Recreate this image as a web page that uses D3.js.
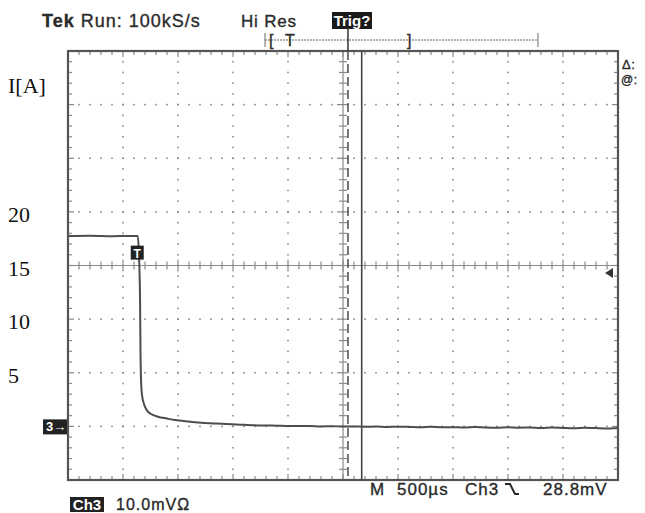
<!DOCTYPE html>
<html><head><meta charset="utf-8">
<script src="https://cdn.jsdelivr.net/npm/d3@7/dist/d3.min.js"></script>
<style>body{margin:0;background:#fff}svg{display:block}</style>
</head><body><svg id="c" width="645" height="513"></svg>
<script>
// ---- data (time in ms relative to trigger, current in A) ----
const timeMs = [-2.5,-2.3,-2.1,-1.95,-1.866,-1.855,-1.845,-1.841,-1.836,-1.827,-1.809,-1.785,-1.745,-1.682,-1.600,-1.527,-1.409,-1.285,-1.15,-1.012,-0.9,-0.773,-0.65,-0.55,-0.391,-0.3,-0.2,-0.1,0,0.1,0.2,0.3,0.4,0.5,0.6,0.7,0.8,0.9,1.0,1.1,1.2,1.3,1.4,1.5,1.6,1.7,1.8,1.9,2.0,2.1,2.2,2.3,2.4,2.5];
const currentA = [17.75,17.78,17.73,17.76,17.75,16.0,11.8,7.1,4.3,2.92,2.08,1.52,1.15,0.90,0.73,0.59,0.45,0.34,0.26,0.19,0.14,0.09,0.07,0.05,0.03,0.04,0.0,0.02,-0.02,0.0,-0.04,-0.02,-0.06,-0.03,-0.05,-0.08,-0.04,-0.09,-0.07,-0.11,-0.06,-0.10,-0.12,-0.08,-0.13,-0.10,-0.15,-0.11,-0.14,-0.17,-0.12,-0.16,-0.19,-0.15];
const yTickValues = [5,10,15,20];
const yTickLabels = ["5","10","15","20"];
const yUnitLabel = "I[A]";
const headerLeft = "Run: 100kS/s";
const headerBrand = "Tek";
const headerMode = "Hi Res";
const trigLabel = "Trig?";
const footerScale = ["M","500\u00b5s","Ch3","","28.8mV"];
const channelLabel = "Ch3";
const channelScale = "10.0mV\u03a9";
const timeDomain = [-2.5, 2.5];   // 10 div x 500 µs
const currentDomain = [-5, 35];   // 8 div x 5 A
const cursorMs = 0.17, trigPosMs = 0.045, trigLevelA = 14.3;

const svg = d3.select("#c");
const L=68,R=618,T=51,B=480;
const x = d3.scaleLinear().domain(timeDomain).range([L,R]);
const y = d3.scaleLinear().domain(currentDomain).range([B,T]);
const gridCol="#8a8a8a", frameCol="#555";
const txtCol="#2a2a2a";

// dotted division grid
const xDiv = d3.range(-2.0, 2.01, 0.5).filter(v=>Math.abs(v)>1e-9);
const yDiv = d3.range(0, 30.1, 5).filter(v=>Math.abs(v-15)>1e-9);
const xMinor = d3.range(-2.5, 2.5001, 0.1);
const yMinor = d3.range(-5, 35.001, 1);
const dots = svg.append("g").attr("fill",gridCol);
xDiv.forEach(t=>yMinor.forEach(a=>dots.append("rect").attr("x",x(t)-0.8).attr("y",y(a)-0.8).attr("width",1.6).attr("height",1.6)));
yDiv.forEach(a=>xMinor.forEach(t=>dots.append("rect").attr("x",x(t)-0.8).attr("y",y(a)-0.8).attr("width",1.6).attr("height",1.6)));

// centre cross with ticks
const cg = svg.append("g").attr("stroke",gridCol).attr("stroke-width",1.2);
cg.append("line").attr("x1",L).attr("x2",R).attr("y1",y(15)).attr("y2",y(15));
cg.append("line").attr("x1",x(0)).attr("x2",x(0)).attr("y1",T).attr("y2",B);
xMinor.forEach((t,i)=>{const big=i%5===0;cg.append("line").attr("x1",x(t)).attr("x2",x(t)).attr("y1",y(15)-(big?6:4)).attr("y2",y(15)+(big?6:4));});
yMinor.forEach((a,i)=>{const big=i%5===0;cg.append("line").attr("y1",y(a)).attr("y2",y(a)).attr("x1",x(0)-(big?6:4)).attr("x2",x(0)+(big?6:4));});

// frame ticks
const fg = svg.append("g").attr("stroke",gridCol).attr("stroke-width",1.2);
xMinor.forEach((t,i)=>{const l=i%5===0?6:4;
  fg.append("line").attr("x1",x(t)).attr("x2",x(t)).attr("y1",T).attr("y2",T+l);
  fg.append("line").attr("x1",x(t)).attr("x2",x(t)).attr("y1",B).attr("y2",B-l);});
yMinor.forEach((a,i)=>{const l=i%5===0?6:4;
  fg.append("line").attr("y1",y(a)).attr("y2",y(a)).attr("x1",L).attr("x2",L+l);
  fg.append("line").attr("y1",y(a)).attr("y2",y(a)).attr("x1",R).attr("x2",R-l);});
svg.append("rect").attr("x",L).attr("y",T).attr("width",R-L).attr("height",B-T)
  .attr("fill","none").attr("stroke",frameCol).attr("stroke-width",2.2);

// trigger position dashed line and cursor
svg.append("line").attr("x1",x(trigPosMs)).attr("x2",x(trigPosMs)).attr("y1",T).attr("y2",B)
  .attr("stroke","#555").attr("stroke-width",1.6).attr("stroke-dasharray","9,4");
svg.append("line").attr("x1",x(cursorMs)).attr("x2",x(cursorMs)).attr("y1",T).attr("y2",B)
  .attr("stroke","#444").attr("stroke-width",1.6);

// trace
const pts = timeMs.map((t,i)=>[t,currentA[i]]);
svg.append("path").datum(pts)
  .attr("d", d3.line().x(d=>x(d[0])).y(d=>y(d[1])).curve(d3.curveMonotoneX))
  .attr("fill","none").attr("stroke","#4d4d4d").attr("stroke-width",2);

// trigger point marker "T" at the drop
const dropIdx = currentA.findIndex((v,i)=>i>0 && v<currentA[0]-1);
const mx = x(timeMs[dropIdx-1])-0.5, my = y(16.2);
svg.append("rect").attr("x",mx-6.5).attr("y",my-7).attr("width",13).attr("height",14).attr("fill","#222");
svg.append("text").attr("x",mx).attr("y",my+5).attr("text-anchor","middle").attr("fill","#fff")
  .attr("font-family","Liberation Sans, Arial").attr("font-weight","bold").attr("font-size",12).text("T");

// ground marker "3→"
svg.append("rect").attr("x",43).attr("y",y(0)-7).attr("width",24).attr("height",15).attr("fill","#222");
svg.append("text").attr("x",46).attr("y",y(0)+5).attr("fill","#fff")
  .attr("font-family","Liberation Sans, Arial").attr("font-weight","bold").attr("font-size",13).text("3\u2192");

// trigger level arrow
svg.append("path").attr("d",`M${R-13},${y(trigLevelA)} L${R-5},${y(trigLevelA)-5} L${R-5},${y(trigLevelA)+5} Z`).attr("fill","#333");

// header
const sans="Liberation Sans, Arial, sans-serif";
function styl(s,size,ls){return s.attr("font-family",sans).attr("font-size",size).attr("letter-spacing",ls)
  .attr("fill",txtCol).attr("stroke",txtCol).attr("stroke-width",0.35);}
const hdr = styl(svg.append("text").attr("x",42).attr("y",27),18,1);
hdr.append("tspan").attr("font-weight","bold").text(headerBrand);
hdr.append("tspan").text(" "+headerLeft);
styl(svg.append("text").attr("x",241).attr("y",27),17,0.8).text(headerMode);
svg.append("rect").attr("x",332).attr("y",12).attr("width",40).attr("height",17).attr("fill","#1a1a1a");
svg.append("text").attr("x",352).attr("y",26).attr("text-anchor","middle").attr("font-family",sans).attr("font-weight","bold")
  .attr("font-size",15).attr("fill","#fff").text(trigLabel);
// record window bar
const bar = svg.append("g").attr("stroke","#666").attr("stroke-width",1);
bar.append("line").attr("x1",265).attr("x2",538).attr("y1",40).attr("y2",40).attr("stroke-dasharray","2,1");
bar.append("line").attr("x1",265).attr("x2",265).attr("y1",33).attr("y2",47);
bar.append("line").attr("x1",538).attr("x2",538).attr("y1",33).attr("y2",47);
bar.append("line").attr("x1",x(trigPosMs)).attr("x2",x(trigPosMs)).attr("y1",28).attr("y2",T).attr("stroke","#333").attr("stroke-width",1.5);
[["[",269],["T",285],["]",407]].forEach(([s,px])=>styl(svg.append("text").attr("x",px).attr("y",46),16,0).text(s));

// right side readouts
styl(svg.append("text").attr("x",622).attr("y",69),13,0.5).text("\u0394:");
styl(svg.append("text").attr("x",621).attr("y",84),12,0.5).text("@:");

// footer
const fx=[370,397,465,505,543];
footerScale.forEach((s,i)=>styl(svg.append("text").attr("x",fx[i]).attr("y",495),17,1).text(s));
// falling-edge trigger slope symbol
svg.append("path").attr("d","M505,484 L510,484 L515,494 L519,494").attr("fill","none")
  .attr("stroke",txtCol).attr("stroke-width",2);
svg.append("rect").attr("x",70).attr("y",497).attr("width",34).attr("height",15).attr("fill","#222");
svg.append("text").attr("x",87).attr("y",510).attr("text-anchor","middle").attr("font-family",sans).attr("font-size",15)
  .attr("font-weight","bold").attr("fill","#fff").text(channelLabel);
styl(svg.append("text").attr("x",116).attr("y",510),16,1).text(channelScale);

// left current labels (serif)
const serif="Liberation Serif, Times New Roman, serif";
svg.append("text").attr("x",8).attr("y",93).attr("font-family",serif).attr("font-size",22).attr("fill","#111").text(yUnitLabel);
yTickValues.forEach((v,i)=>svg.append("text").attr("x",8).attr("y",y(v)+10).attr("font-family",serif)
  .attr("font-size",22).attr("fill","#111").text(yTickLabels[i]));
</script></body></html>
